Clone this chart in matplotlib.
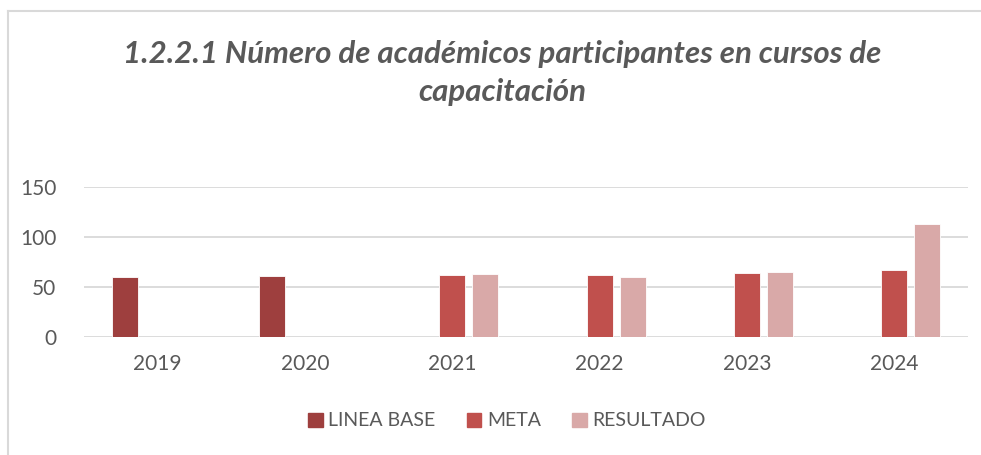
import matplotlib
matplotlib.use("Agg")
import matplotlib.pyplot as plt
import numpy as np
from matplotlib.patches import Rectangle
from matplotlib.lines import Line2D

years = ["2019", "2020", "2021", "2022", "2023", "2024"]
linea_base = [60, 61, None, None, None, None]
meta = [None, None, 62, 62, 64, 67]
resultado = [None, None, 63, 60, 65, 113]
series_names = ["LINEA BASE", "META", "RESULTADO"]
colors = ["#9E3F3E", "#C0504D", "#D9A9A8"]
yticks = [0, 50, 100, 150]

plt.rcParams['font.family'] = ['Lato', 'DejaVu Sans']

W, H = 981, 455
fig = plt.figure(figsize=(W/100, H/100), dpi=100)
fig.patch.set_facecolor("white")

# frame
fig.add_artist(Line2D([8/W, 8/W], [0, 1 - 11/H], transform=fig.transFigure, color="#D9D9D9", lw=1.5))
fig.add_artist(Line2D([8/W, 1], [1 - 11/H, 1 - 11/H], transform=fig.transFigure, color="#D9D9D9", lw=1.5))

left, right = 84, 968
bottom, top = 337, 187
ax = fig.add_axes([left/W, 1 - bottom/H, (right-left)/W, (bottom-top)/H])
ax.set_xlim(0, len(years))
ax.set_ylim(0, 150)

x = np.arange(len(years)) + 0.5
bw = 0.177
off = 0.224
for i, (vals, c) in enumerate(zip([linea_base, meta, resultado], colors)):
    xs = [xx + (i - 1) * off for xx, v in zip(x, vals) if v is not None]
    vs = [v for v in vals if v is not None]
    ax.bar(xs, vs, width=bw, color=c, edgecolor="white", linewidth=0.6, zorder=3, label=series_names[i])

ax.set_yticks(yticks)
ax.yaxis.grid(True, color="#D9D9D9", lw=1.3, zorder=0)
ax.set_xticks(x)
ax.set_xticklabels(years)
for s in ax.spines.values():
    s.set_visible(False)
ax.tick_params(axis="both", length=0, labelsize=15, labelcolor="#595959")
ax.tick_params(axis="y", pad=20)
ax.tick_params(axis="x", pad=12)

fig.text(502/W, 1 - 73/H, "1.2.2.1 Número de académicos participantes en cursos de\ncapacitación",
         ha="center", va="center", fontsize=22.5, fontweight="bold", fontstyle="italic",
         color="#595959", linespacing=1.42)

handles = [Rectangle((0, 0), 1, 1, color=c) for c in colors]
fig.legend(handles, series_names, loc="center", bbox_to_anchor=(507/W, 1 - 421/H),
           ncol=3, frameon=False, fontsize=14, labelcolor="#595959",
           handlelength=0.75, handleheight=0.75, handletextpad=0.3, columnspacing=1.6)

fig.savefig("out.png", dpi=100, facecolor="white")
